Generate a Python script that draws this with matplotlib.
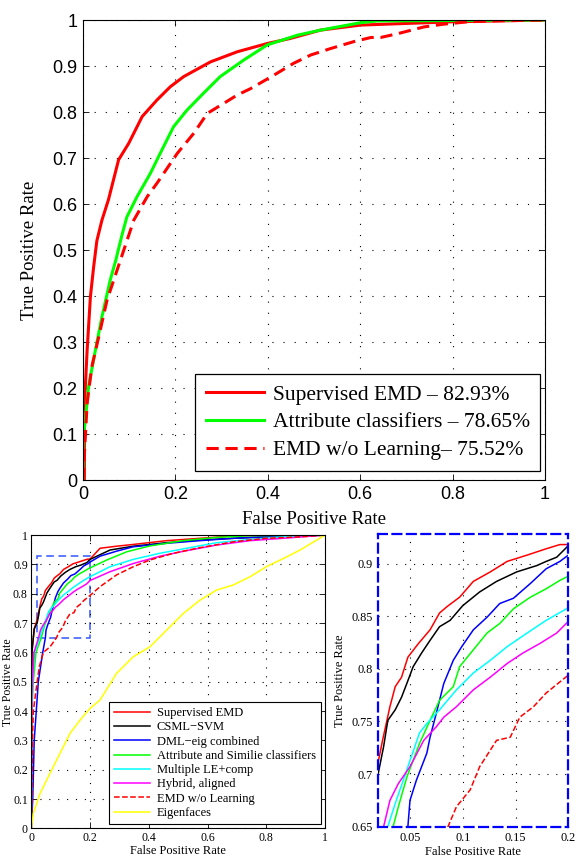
import numpy as np
import matplotlib
matplotlib.use("Agg")
import matplotlib.pyplot as plt
from matplotlib.patches import Rectangle

# ---- top panel: three ROC curves
top_labels = ["Supervised EMD \u2013 82.93%", "Attribute classifiers \u2013 78.65%",
              "EMD w/o Learning\u2013 75.52%"]

sup_x = [0, 0.003, 0.003, 0.005, 0.009, 0.016, 0.023, 0.03, 0.041, 0.055, 0.077, 0.099, 0.128,
         0.16, 0.189, 0.218, 0.276, 0.334, 0.399, 0.449, 0.514, 0.601, 0.796, 1]
sup_y = [0, 0.0, 0.15, 0.203, 0.283, 0.398, 0.463, 0.52, 0.565, 0.609, 0.696, 0.732, 0.79,
         0.826, 0.855, 0.877, 0.909, 0.931, 0.949, 0.96, 0.978, 0.989, 0.996, 1]

att_x = [0, 0, 0.005, 0.012, 0.027, 0.041, 0.059, 0.071, 0.085, 0.095, 0.117, 0.146, 0.167,
         0.196, 0.225, 0.261, 0.297, 0.348, 0.399, 0.464, 0.514, 0.6, 0.637, 1]
att_y = [0, 0.087, 0.13, 0.203, 0.283, 0.355, 0.435, 0.478, 0.535, 0.572, 0.616, 0.667, 0.71,
         0.768, 0.804, 0.841, 0.877, 0.913, 0.946, 0.967, 0.978, 0.994, 0.998, 1]

wo_x = [0, 0.009, 0.019, 0.034, 0.052, 0.074, 0.095, 0.11, 0.139, 0.16, 0.204, 0.24, 0.269,
        0.305, 0.334, 0.363, 0.413, 0.456, 0.493, 0.536, 0.586, 0.623, 0.644, 0.68, 0.738,
        0.781, 0.832, 0.88, 1]
wo_y = [0, 0.167, 0.246, 0.311, 0.391, 0.457, 0.52, 0.565, 0.616, 0.645, 0.71, 0.754, 0.797,
        0.819, 0.837, 0.851, 0.88, 0.906, 0.924, 0.938, 0.953, 0.962, 0.962, 0.97, 0.985,
        0.991, 0.996, 0.998, 1]

# ---- bottom panels: eight ROC curves
names = ["Supervised EMD", "CSML\u2212SVM", "DML\u2212eig combined",
         "Attribute and Similie classifiers", "Multiple LE+comp", "Hybrid, aligned",
         "EMD w/o Learning", "Eigenfaces"]
colors = ["#ff0000", "#000000", "#0000ff", "#00ff00", "#00ffff", "#ff00ff", "#ff0000", "#ffff00"]
styles = ["-", "-", "-", "-", "-", "-", "--", "-"]

curves_x = [
    [0, 0.002, 0.01, 0.02, 0.024, 0.031, 0.036, 0.042, 0.048, 0.058, 0.069, 0.078, 0.085, 0.097,
     0.11, 0.126, 0.142, 0.161, 0.179, 0.192, 0.2, 0.234, 0.29, 0.347, 0.461, 0.574, 0.688, 0.8, 1],
    [0, 0.002, 0.01, 0.02, 0.025, 0.029, 0.036, 0.042, 0.047, 0.053, 0.061, 0.069, 0.078, 0.088,
     0.1, 0.116, 0.132, 0.151, 0.17, 0.179, 0.189, 0.2, 0.268, 0.347, 0.461, 0.574, 0.688, 0.8, 1],
    [0, 0.005, 0.01, 0.024, 0.039, 0.048, 0.05, 0.056, 0.066, 0.069, 0.075, 0.082, 0.091, 0.099,
     0.11, 0.123, 0.135, 0.148, 0.164, 0.179, 0.192, 0.2, 0.234, 0.29, 0.347, 0.461, 0.574, 0.688,
     0.8, 1],
    [0, 0.002, 0.007, 0.016, 0.034, 0.039, 0.047, 0.059, 0.069, 0.078, 0.091, 0.097, 0.11, 0.123,
     0.135, 0.148, 0.164, 0.179, 0.192, 0.2, 0.257, 0.325, 0.404, 0.518, 0.631, 0.745, 1],
    [0, 0.002, 0.005, 0.011, 0.029, 0.036, 0.047, 0.059, 0.066, 0.078, 0.094, 0.11, 0.126, 0.142,
     0.161, 0.179, 0.2, 0.268, 0.347, 0.438, 0.529, 0.631, 0.745, 0.858, 1],
    [0, 0.002, 0.004, 0.009, 0.025, 0.031, 0.039, 0.05, 0.063, 0.075, 0.082, 0.094, 0.11, 0.126,
     0.142, 0.157, 0.173, 0.189, 0.2, 0.268, 0.347, 0.438, 0.529, 0.631, 0.745, 0.858, 1],
    [0, 0.002, 0.004, 0.007, 0.02, 0.027, 0.041, 0.064, 0.086, 0.094, 0.107, 0.116, 0.132, 0.145,
     0.154, 0.167, 0.179, 0.2, 0.234, 0.29, 0.347, 0.404, 0.484, 0.574, 0.688, 0.8, 0.915, 1],
    [0, 0.007, 0.03, 0.064, 0.098, 0.132, 0.166, 0.2, 0.234, 0.29, 0.347, 0.404, 0.461, 0.518,
     0.574, 0.631, 0.688, 0.745, 0.8, 0.858, 0.915, 1],
]
curves_y = [
    [0, 0.6, 0.68, 0.712, 0.732, 0.764, 0.783, 0.792, 0.811, 0.824, 0.837, 0.853, 0.859, 0.868,
     0.883, 0.892, 0.902, 0.908, 0.914, 0.918, 0.918, 0.955, 0.962, 0.968, 0.981, 0.989, 0.997, 1.0, 1],
    [0, 0.6, 0.68, 0.701, 0.726, 0.751, 0.761, 0.773, 0.786, 0.802, 0.815, 0.827, 0.84, 0.846,
     0.86, 0.873, 0.883, 0.892, 0.898, 0.902, 0.906, 0.917, 0.949, 0.962, 0.974, 0.983, 0.989, 0.994, 1],
    [0, 0.1, 0.3, 0.5, 0.6, 0.65, 0.675, 0.694, 0.72, 0.735, 0.758, 0.786, 0.808, 0.821,
     0.837, 0.849, 0.862, 0.867, 0.881, 0.895, 0.902, 0.908, 0.928, 0.945, 0.96, 0.972, 0.981, 0.989,
     0.994, 1],
    [0, 0.4, 0.5, 0.6, 0.65, 0.669, 0.697, 0.729, 0.751, 0.77, 0.783, 0.802, 0.818, 0.834,
     0.843, 0.857, 0.868, 0.876, 0.884, 0.888, 0.915, 0.943, 0.963, 0.981, 0.992, 0.998, 1],
    [0, 0.42, 0.5, 0.6, 0.65, 0.672, 0.704, 0.739, 0.748, 0.761, 0.78, 0.796, 0.808, 0.821,
     0.834, 0.846, 0.858, 0.892, 0.917, 0.938, 0.955, 0.974, 0.985, 0.994, 1],
    [0, 0.45, 0.5, 0.6, 0.65, 0.675, 0.691, 0.707, 0.732, 0.745, 0.754, 0.764, 0.78, 0.792,
     0.805, 0.815, 0.824, 0.834, 0.845, 0.875, 0.903, 0.928, 0.947, 0.966, 0.981, 0.989, 1],
    [0, 0.1, 0.3, 0.4, 0.5, 0.55, 0.6, 0.619, 0.65, 0.669, 0.685, 0.707, 0.732, 0.735,
     0.754, 0.764, 0.777, 0.794, 0.824, 0.864, 0.892, 0.915, 0.938, 0.957, 0.977, 0.989, 0.994, 1],
    [0, 0.051, 0.119, 0.188, 0.256, 0.324, 0.369, 0.409, 0.4375, 0.528, 0.585, 0.619, 0.676, 0.733,
     0.778, 0.8125, 0.83, 0.858, 0.892, 0.92, 0.949, 1],
]

zoom_x = [0.02, 0.2]
zoom_y = [0.65, 0.928]
ticks_01 = [0, 0.1, 0.2, 0.3, 0.4, 0.5, 0.6, 0.7, 0.8, 0.9, 1]
ticks_x = [0, 0.2, 0.4, 0.6, 0.8, 1]

serif = ["Liberation Serif", "DejaVu Serif"]
sans = ["Liberation Sans", "DejaVu Sans"]


def tick_fmt(v):
    return "%g" % v


def matlab_axes(ax, fs, family, dots, pad=4):
    ax.tick_params(direction="in", top=True, right=True, length=4, width=0.6, labelsize=fs, pad=pad)
    ax.grid(True, color="black", linestyle=(0, dots), linewidth=0.8)
    for lab in ax.get_xticklabels() + ax.get_yticklabels():
        lab.set_fontfamily(family)
    for s in ax.spines.values():
        s.set_linewidth(0.8)


fig = plt.figure(figsize=(5.76, 8.59), dpi=100)

# top axes
ax = fig.add_axes([0.1441, 0.4412, 0.8021, 0.5355])
ax.plot(sup_x, sup_y, color="#ff0000", lw=2.2, label=top_labels[0])
ax.plot(att_x, att_y, color="#00ff00", lw=2.2, label=top_labels[1])
ax.plot(wo_x, wo_y, color="#ff0000", lw=2.2, dashes=(4, 2.2), label=top_labels[2])
ax.set_xlim(0, 1)
ax.set_ylim(0, 1)
ax.set_xticks(ticks_x)
ax.set_yticks(ticks_01)
ax.set_xticklabels([tick_fmt(v) for v in ticks_x])
ax.set_yticklabels([tick_fmt(v) for v in ticks_01])
matlab_axes(ax, 13, sans, (1, 9))
ax.set_xlabel("False Positive Rate", fontfamily=serif, fontsize=13.5, labelpad=6)
ax.set_ylabel("True Positive Rate", fontfamily=serif, fontsize=13.5, labelpad=10)
leg = ax.legend(loc="lower right", bbox_to_anchor=(0.99, 0.02), borderaxespad=0,
                prop={"family": serif, "size": 15.5}, fancybox=False, framealpha=1,
                edgecolor="black", handlelength=2.7, handletextpad=0.4, labelspacing=0.35,
                borderpad=0.5)
leg.get_frame().set_linewidth(0.9)

# bottom-left axes
ax2 = fig.add_axes([0.0543, 0.0357, 0.51, 0.3414])
for cx, cy, lab, c, ls in zip(curves_x, curves_y, names, colors, styles):
    ax2.plot(cx, cy, color=c, lw=1.1, linestyle=ls, label=lab)
ax2.add_patch(Rectangle((zoom_x[0], zoom_y[0]), zoom_x[1] - zoom_x[0], zoom_y[1] - zoom_y[0],
                        fill=False, edgecolor="#3355ff", lw=1.1, linestyle=(0, (5, 3))))
ax2.set_xlim(0, 1)
ax2.set_ylim(0, 1)
ax2.set_xticks(ticks_x)
ax2.set_yticks(ticks_01)
ax2.set_xticklabels([tick_fmt(v) for v in ticks_x])
ax2.set_yticklabels([tick_fmt(v) for v in ticks_01])
matlab_axes(ax2, 8.5, serif, (1, 7), pad=2.5)
ax2.set_xlabel("False Positive Rate", fontfamily=serif, fontsize=9, labelpad=1)
ax2.set_ylabel("True Positive Rate", fontfamily=serif, fontsize=8.5)
ax2.yaxis.set_label_coords(-0.058, 0.5)
leg2 = ax2.legend(loc="lower right", bbox_to_anchor=(0.985, 0.015), borderaxespad=0,
                  prop={"family": serif, "size": 9}, fancybox=False, framealpha=1,
                  edgecolor="black", handlelength=2.9, handletextpad=0.5, labelspacing=0.18,
                  borderpad=0.4)
leg2.get_frame().set_linewidth(0.8)

# bottom-right zoom axes
ax3 = fig.add_axes([0.6568, 0.0376, 0.3299, 0.3407])
for cx, cy, c, ls in zip(curves_x[:7], curves_y[:7], colors[:7], styles[:7]):
    ax3.plot(cx, cy, color=c, lw=1.1, linestyle=ls)
ax3.set_xlim(zoom_x)
ax3.set_ylim(zoom_y)
zx_ticks = [0.05, 0.1, 0.15, 0.2]
zy_ticks = [0.65, 0.7, 0.75, 0.8, 0.85, 0.9]
ax3.set_xticks(zx_ticks)
ax3.set_yticks(zy_ticks)
ax3.set_xticklabels([tick_fmt(v) for v in zx_ticks])
ax3.set_yticklabels([tick_fmt(v) for v in zy_ticks])
matlab_axes(ax3, 8.8, serif, (1, 7))
ax3.tick_params(top=False, right=False, length=0)
for s in ax3.spines.values():
    s.set_edgecolor("#0000ff")
    s.set_linestyle((0, (4, 2.5)))
    s.set_linewidth(1.6)
ax3.set_xlabel("False Positive Rate", fontfamily=serif, fontsize=9, labelpad=1)
ax3.set_ylabel("True Positive Rate", fontfamily=serif, fontsize=9, labelpad=4)

fig.savefig("out.png", dpi=100)
